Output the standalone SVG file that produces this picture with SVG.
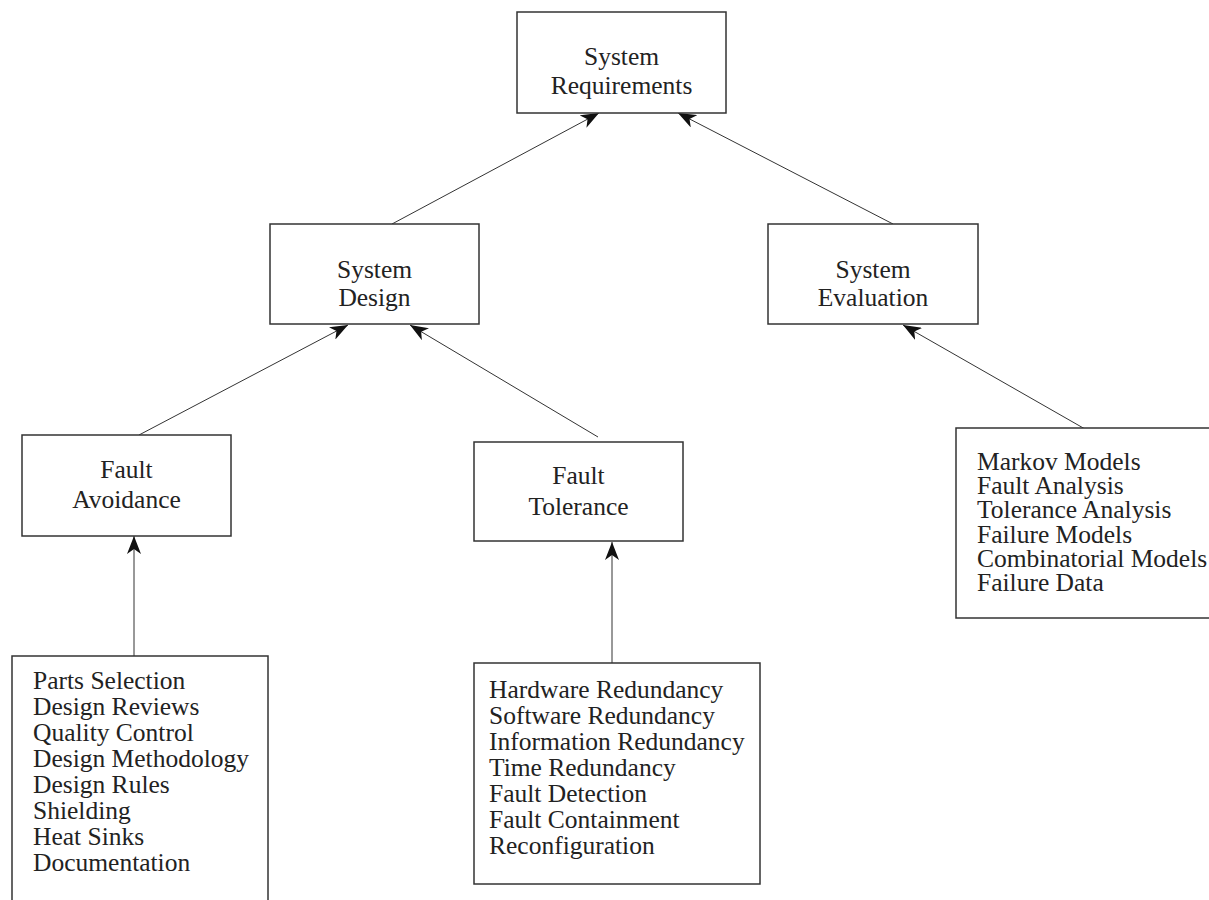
<svg xmlns="http://www.w3.org/2000/svg" width="1209" height="900" viewBox="0 0 1209 900">
<style>
.box{fill:#fff;stroke:#333;stroke-width:1.5}
.t{font-family:"Liberation Serif","Times New Roman",serif;font-size:25.5px;fill:#222}
.c{text-anchor:middle}
.ln{stroke:#333;stroke-width:1;fill:none}
</style>
<defs>
<marker id="ah" viewBox="0 0 18 14" refX="18" refY="7" markerWidth="18" markerHeight="14" markerUnits="userSpaceOnUse" orient="auto">
<path d="M0,0 L18,7 L0,14 L5,7 Z" fill="#111"/>
</marker>
</defs>
<rect width="1209" height="900" fill="#fff"/>
<g id="connectors">
<line class="ln" x1="392" y1="224" x2="599" y2="113" marker-end="url(#ah)"/>
<line class="ln" x1="893" y1="224" x2="678" y2="113" marker-end="url(#ah)"/>
<line class="ln" x1="139" y1="435" x2="348" y2="325" marker-end="url(#ah)"/>
<line class="ln" x1="598" y1="437" x2="410" y2="325" marker-end="url(#ah)"/>
<line class="ln" x1="1085" y1="429" x2="903" y2="325" marker-end="url(#ah)"/>
<line class="ln" x1="134" y1="656" x2="134" y2="536" marker-end="url(#ah)"/>
<line class="ln" x1="612" y1="663" x2="612" y2="542" marker-end="url(#ah)"/>
</g>
<g id="system-requirements">
<rect class="box" x="517" y="12" width="209" height="101"/>
<text class="t c" x="621.5" y="65">System</text>
<text class="t c" x="621.5" y="94">Requirements</text>
</g>
<g id="system-design">
<rect class="box" x="270" y="224" width="209" height="100"/>
<text class="t c" x="374.5" y="278">System</text>
<text class="t c" x="374.5" y="306">Design</text>
</g>
<g id="system-evaluation">
<rect class="box" x="768" y="224" width="210" height="100"/>
<text class="t c" x="873" y="278">System</text>
<text class="t c" x="873" y="306">Evaluation</text>
</g>
<g id="fault-avoidance">
<rect class="box" x="22" y="435" width="209" height="101"/>
<text class="t c" x="126.5" y="478">Fault</text>
<text class="t c" x="126.5" y="508">Avoidance</text>
</g>
<g id="fault-tolerance">
<rect class="box" x="474" y="442" width="209" height="99"/>
<text class="t c" x="578.5" y="484">Fault</text>
<text class="t c" x="578.5" y="515">Tolerance</text>
</g>
<g id="avoidance-techniques">
<rect class="box" x="12" y="656" width="256" height="260"/>
<text class="t" x="33" y="689">Parts Selection</text>
<text class="t" x="33" y="715">Design Reviews</text>
<text class="t" x="33" y="741">Quality Control</text>
<text class="t" x="33" y="767">Design Methodology</text>
<text class="t" x="33" y="793">Design Rules</text>
<text class="t" x="33" y="819">Shielding</text>
<text class="t" x="33" y="845">Heat Sinks</text>
<text class="t" x="33" y="871">Documentation</text>
</g>
<g id="tolerance-techniques">
<rect class="box" x="474" y="663" width="286" height="221"/>
<text class="t" x="489" y="698">Hardware Redundancy</text>
<text class="t" x="489" y="724">Software Redundancy</text>
<text class="t" x="489" y="750">Information Redundancy</text>
<text class="t" x="489" y="776">Time Redundancy</text>
<text class="t" x="489" y="802">Fault Detection</text>
<text class="t" x="489" y="828">Fault Containment</text>
<text class="t" x="489" y="854">Reconfiguration</text>
</g>
<g id="evaluation-techniques">
<rect class="box" x="956" y="428" width="260" height="190"/>
<text class="t" x="977" y="470">Markov Models</text>
<text class="t" x="977" y="494">Fault Analysis</text>
<text class="t" x="977" y="518">Tolerance Analysis</text>
<text class="t" x="977" y="543">Failure Models</text>
<text class="t" x="977" y="567">Combinatorial Models</text>
<text class="t" x="977" y="591">Failure Data</text>
</g>
</svg>
